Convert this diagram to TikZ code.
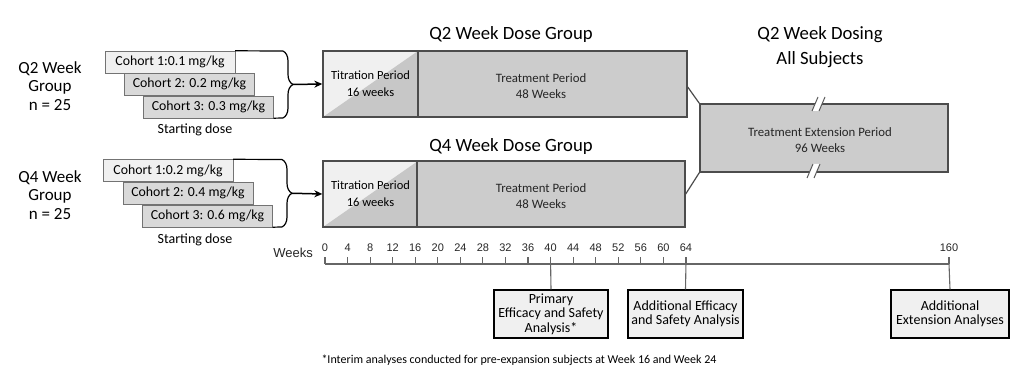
\documentclass[tikz,border=0pt]{standalone}
\usepackage{fontspec}
\setmainfont{Carlito}
\setsansfont{Liberation Sans}
\usetikzlibrary{positioning,decorations.pathreplacing,arrows.meta}

\begin{document}
\begin{tikzpicture}[x=1pt,y=-1pt,
	grouplbl/.style={align=center, font=\fontsize{17}{18.5}\selectfont},
	cohort/.style={draw=black!55, fill=#1, minimum width=130pt, minimum height=22pt, inner sep=0pt, font=\fontsize{13.8}{13.8}\selectfont},
	titbox/.style={draw=black!70, line width=1.4pt, fill=black!6, minimum width=95pt, minimum height=66pt, inner sep=0pt, align=center, font=\fontsize{12.5}{17}\selectfont,
		path picture={\fill[black!22] (path picture bounding box.south west) -- (path picture bounding box.north east) -- (path picture bounding box.south east) -- cycle;}},
	treatbox/.style={draw=black!70, line width=1.4pt, fill=black!20, minimum height=66pt, inner sep=0pt},
	periodtxt/.style={align=center, font=\fontsize{12.8}{16.5}\selectfont, text=black!85},
	headlbl/.style={align=center, font=\fontsize{18.7}{25}\selectfont},
	anbox/.style={draw=black, line width=1.3pt, fill=black!6, minimum width=114pt, minimum height=48pt, inner sep=0pt, align=center, font=\fontsize{14}{14.5}\selectfont},
	axis/.style={draw=black!60, line width=1.1pt},
	wklbl/.style={font=\sffamily\fontsize{11}{11}\selectfont, text=black!85},
	brace/.style={decorate, decoration={brace, amplitude=10pt}, line width=1.2pt},
	feed/.style={line width=1.5pt, -{Stealth[length=8pt,width=7pt]}},
	link/.style={draw=black!70, line width=1.2pt}]
	\useasboundingbox (0,0) rectangle (1024,382);

	% Q2 group and cohorts
	\node[grouplbl] (grpA) at (50,86) {Q2 Week\\Group\\n = 25};
	\node[cohort=black!6] (cohA1) at (170,62) {Cohort 1:0.1 mg/kg};
	\node[cohort=black!15] (cohA2) at (189.5,84) {Cohort 2: 0.2 mg/kg};
	\node[cohort=black!15] (cohA3) at (208.5,107) {Cohort 3: 0.3 mg/kg};
	\node[font=\fontsize{14}{14}\selectfont] (startA) at (195,130) {Starting dose};
	\coordinate (brAtop) at (283,51);
	\coordinate (brAbot) at (283,118);
	\coordinate (brAtip) at (293,84.5);
	\draw[line width=1.2pt] (cohA1.north east) -- (brAtop);
	\draw[line width=1.2pt] (cohA3.south east) -- (brAbot);
	\draw[brace] (brAtop) -- (brAbot);

	% Q4 group and cohorts
	\node[grouplbl] (grpB) at (50,195) {Q4 Week\\Group\\n = 25};
	\node[cohort=black!6] (cohB1) at (168,170.5) {Cohort 1:0.2 mg/kg};
	\node[cohort=black!15] (cohB2) at (188,193) {Cohort 2: 0.4 mg/kg};
	\node[cohort=black!15] (cohB3) at (207.5,216) {Cohort 3: 0.6 mg/kg};
	\node[font=\fontsize{14}{14}\selectfont] (startB) at (195,240) {Starting dose};
	\coordinate (brBtop) at (282,159.5);
	\coordinate (brBbot) at (282,227);
	\coordinate (brBtip) at (292,193.25);
	\draw[line width=1.2pt] (cohB1.north east) -- (brBtop);
	\draw[line width=1.2pt] (cohB3.south east) -- (brBbot);
	\draw[brace] (brBtop) -- (brBbot);

	% dose group periods
	\node[headlbl] (headA) at (511,35) {Q2 Week Dose Group};
	\node[titbox] (titA) at (370.5,84) {Titration Period\\16 weeks};
	\node[treatbox, minimum width=269pt] (treatA) at (552.5,84) {};
	\node[periodtxt] (treatAtxt) at (541,86) {Treatment Period\\48 Weeks};
	\node[headlbl] (headB) at (511,147) {Q4 Week Dose Group};
	\node[titbox] (titB) at (370.5,194) {Titration Period\\16 weeks};
	\node[treatbox, minimum width=268pt] (treatB) at (551,194) {};
	\node[periodtxt] (treatBtxt) at (541,196) {Treatment Period\\48 Weeks};
	\draw[feed] (brAtip) -- (titA.west);
	\draw[feed] (brBtip) -- (titB.west);

	% extension period
	\node[headlbl] (headC) at (820,47.5) {Q2 Week Dosing\\All Subjects};
	\node[treatbox, minimum width=248pt, minimum height=68pt] (ext) at (824,138) {};
	\node[periodtxt] (exttxt) at (820,140) {Treatment Extension Period\\96 Weeks};
	\draw[link] (treatA.east) ++(0,3) -- (ext.north west);
	\draw[link] (ext.south west) -- (treatB.east);
	\fill[white] (812,111) -- (818,97) -- (825,97) -- (819,111) -- cycle;
	\draw[black!65, line width=1pt] (812,111) -- (818,97) (819,111) -- (825,97);
	\fill[white] (807,178) -- (813,164) -- (820,164) -- (814,178) -- cycle;
	\draw[black!65, line width=1pt] (807,178) -- (813,164) (814,178) -- (820,164);

	% timeline
	\node[font=\sffamily\fontsize{13}{13}\selectfont, text=black!85] (wklabel) at (293,253) {Weeks};
	\draw[axis] (325,264) -- (949,264);
	\foreach \w in {0,4,...,64} {
		\draw[axis] (325+\w*5.64,257) -- (325+\w*5.64,264);
		\node[wklbl] (wk\w) at (325+\w*5.64,248) {\w};
	}
	\draw[axis] (949,257) -- (949,264);
	\node[wklbl] (wk160) at (949,248) {160};
	\coordinate (t40) at (325+40*5.64,264);
	\coordinate (t64) at (325+64*5.64,264);
	\coordinate (t160) at (949,264);

	% analyses
	\node[anbox] (primary) at (551,314) {Primary\\Efficacy and Safety\\Analysis*};
	\node[anbox, minimum width=115pt] (addl) at (685.5,314) {Additional Efficacy\\and Safety Analysis};
	\node[anbox, minimum width=118pt] (extan) at (950,314) {Additional\\Extension Analyses};
	\draw[axis] (t40) -- (primary.north);
	\draw[axis] (t64) -- (addl.north);
	\draw[axis] (t160) -- (extan.north);

	\node[font=\fontsize{12}{12}\selectfont] (note) at (519,360) {*Interim analyses conducted for pre-expansion subjects at Week 16 and Week 24};
\end{tikzpicture}
\end{document}
